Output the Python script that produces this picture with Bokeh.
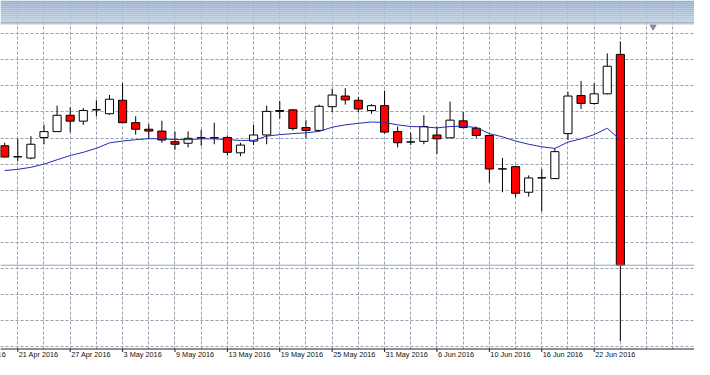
from bokeh.plotting import figure
from bokeh.models import Range1d, FixedTicker, Span, BoxAnnotation, ColumnDataSource
from bokeh.core.properties import value
from bokeh.embed import file_html
from bokeh.resources import INLINE

# GBPUSD daily, 20 Apr 2016 - 24 Jun 2016
opens = [1.4389, 1.4323, 1.4316, 1.4438, 1.4473, 1.4570, 1.4535, 1.4602, 1.4579, 1.4659,
         1.4526, 1.4487, 1.4476, 1.4413, 1.4404, 1.4436, 1.4436, 1.4438, 1.4347, 1.4417,
         1.4453, 1.4593, 1.4602, 1.4497, 1.4480, 1.4621, 1.4684, 1.4659, 1.4598, 1.4627,
         1.4473, 1.4411, 1.4415, 1.4453, 1.4436, 1.4537, 1.4493, 1.4450, 1.4251, 1.4265,
         1.4113, 1.4198, 1.4194, 1.4461, 1.4687, 1.4640, 1.4697, 1.4931]
highs = [1.4407, 1.4430, 1.4446, 1.4513, 1.4627, 1.4617, 1.4613, 1.4659, 1.4690, 1.4760,
         1.4564, 1.4518, 1.4537, 1.4474, 1.4474, 1.4484, 1.4526, 1.4450, 1.4407, 1.4513,
         1.4627, 1.4655, 1.4607, 1.4541, 1.4633, 1.4727, 1.4731, 1.4678, 1.4636, 1.4716,
         1.4503, 1.4465, 1.4570, 1.4503, 1.4651, 1.4589, 1.4503, 1.4455, 1.4316, 1.4270,
         1.4213, 1.4251, 1.4373, 1.4709, 1.4773, 1.4760, 1.4937, 1.5007]
lows = [1.4320, 1.4297, 1.4309, 1.4398, 1.4471, 1.4469, 1.4513, 1.4564, 1.4573, 1.4524,
        1.4455, 1.4430, 1.4407, 1.4366, 1.4379, 1.4389, 1.4398, 1.4331, 1.4327, 1.4393,
        1.4398, 1.4550, 1.4480, 1.4436, 1.4478, 1.4589, 1.4633, 1.4589, 1.4579, 1.4461,
        1.4379, 1.4393, 1.4398, 1.4341, 1.4434, 1.4493, 1.4436, 1.4170, 1.4113, 1.4084,
        1.4087, 1.3998, 1.4192, 1.4423, 1.4607, 1.4633, 1.4695, 1.3230]
closes = [1.4322, 1.4323, 1.4398, 1.4473, 1.4570, 1.4535, 1.4598, 1.4602, 1.4665, 1.4526,
          1.4487, 1.4476, 1.4423, 1.4398, 1.4433, 1.4436, 1.4436, 1.4350, 1.4393, 1.4453,
          1.4593, 1.4598, 1.4491, 1.4480, 1.4623, 1.4690, 1.4661, 1.4607, 1.4627, 1.4470,
          1.4407, 1.4411, 1.4503, 1.4430, 1.4541, 1.4497, 1.4450, 1.4251, 1.4251, 1.4107,
          1.4198, 1.4198, 1.4354, 1.4684, 1.4640, 1.4697, 1.4861, 1.3680]
ma = [1.4242, 1.4249, 1.4261, 1.4280, 1.4306, 1.4331, 1.4350, 1.4374, 1.4406, 1.4417,
      1.4425, 1.4431, 1.4430, 1.4426, 1.4425, 1.4430, 1.4430, 1.4425, 1.4421, 1.4421,
      1.4446, 1.4455, 1.4461, 1.4466, 1.4474, 1.4499, 1.4513, 1.4522, 1.4530, 1.4527,
      1.4513, 1.4503, 1.4501, 1.4495, 1.4503, 1.4505, 1.4497, 1.4461, 1.4442, 1.4417,
      1.4398, 1.4383, 1.4373, 1.4411, 1.4430, 1.4455, 1.4493, 1.4423]
tick_idx = [-3, 1, 5, 9, 13, 17, 21, 25, 29, 33, 37, 41, 45]
tick_labels = ["15 Apr 2016", "21 Apr 2016", "27 Apr 2016", "3 May 2016", "9 May 2016",
               "13 May 2016", "19 May 2016", "25 May 2016", "31 May 2016", "6 Jun 2016",
               "10 Jun 2016", "16 Jun 2016", "22 Jun 2016"]

n = len(opens)
idx = list(range(n))

# layout helpers: vertical positions (screen pixels from the top of the figure)
Y_TOP = 1.52510
PX = 1.0 / 1685.1
AXIS_Y = 348.5


def at(py):
    return Y_TOP - py * PX


p = figure(width=694, height=359, output_backend="svg", toolbar_location=None,
           x_range=Range1d(-0.32, 52.66), y_range=Range1d(at(359), Y_TOP),
           x_axis_location=None, y_axis_location=None,
           min_border_left=0, min_border_right=0, min_border_top=0, min_border_bottom=0,
           outline_line_color=None, background_fill_color="white", border_fill_color="white")

# grid
p.xgrid.ticker = FixedTicker(ticks=list(range(1, 55, 2)))
p.ygrid.ticker = FixedTicker(ticks=[round(1.5055 - 0.0155 * k, 4) for k in range(13)])
p.grid.grid_line_color = "#96a0b0"
p.grid.grid_line_dash = "3 2"
p.grid.grid_line_width = 1

# area below the time axis
p.add_layout(BoxAnnotation(top=at(AXIS_Y), fill_color="white", fill_alpha=1, line_color=None,
                           level="underlay"))

# bid line
p.add_layout(Span(location=closes[-1], dimension="width", line_color="#98a3b3", line_width=1))

# candles
tops, bots, cols = [], [], []
for o, c in zip(opens, closes):
    t, b = max(o, c), min(o, c)
    if t - b < 0.0001:
        t = b + 0.0001
    tops.append(t)
    bots.append(b)
    cols.append("white" if c >= o else "#ff0000")
src = ColumnDataSource(dict(x=idx, h=highs, l=lows, top=tops, bottom=bots, color=cols))
p.segment(x0="x", y0="h", x1="x", y1="l", source=src, line_color="black", line_width=1)
p.vbar(x="x", width=0.62, top="top", bottom="bottom", fill_color="color",
       line_color="black", line_width=1, source=src)

# moving average
p.line(idx, ma, line_color="#2a2ab0", line_width=1)

# chart-shift marker
p.scatter(x=[n + 1.5], y=[at(26.2)], marker="inverted_triangle", size=6,
          fill_color="#7d8ca2", line_color="#7d8ca2")

# window header (gradient) and separator
c0, c1 = (150, 175, 208), (186, 206, 229)
steps = 11
for k in range(steps):
    f = k / (steps - 1)
    col = "#%02x%02x%02x" % tuple(int(round(a + (b - a) * f)) for a, b in zip(c0, c1))
    p.add_layout(BoxAnnotation(top=at(22 * k / steps), bottom=at(22 * (k + 1) / steps),
                               fill_color=col, fill_alpha=1, line_color=None))
p.add_layout(BoxAnnotation(top=at(22), bottom=at(23), fill_color="#8a8a8a", fill_alpha=1, line_color=None))
p.add_layout(BoxAnnotation(top=at(23), bottom=at(24), fill_color="#c8c8c8", fill_alpha=1, line_color=None))

# time axis: line, ticks and date labels
p.add_layout(Span(location=at(AXIS_Y), dimension="width", line_color="#222222", line_width=1))
tsrc = ColumnDataSource(dict(x=tick_idx, text=tick_labels,
                             y0=[at(AXIS_Y)] * len(tick_idx), y1=[at(AXIS_Y + 3)] * len(tick_idx),
                             ty=[at(AXIS_Y + 1.0)] * len(tick_idx)))
p.segment(x0="x", y0="y0", x1="x", y1="y1", source=tsrc, line_color="#222222", line_width=1)
p.text(x="x", y="ty", text="text", source=tsrc, x_offset=1, text_align="left",
       text_baseline="top", text_font=value("Liberation Sans"), text_font_size=value("7.3px"),
       text_color="#111111")

open("out.html", "w").write(file_html(p, INLINE))
